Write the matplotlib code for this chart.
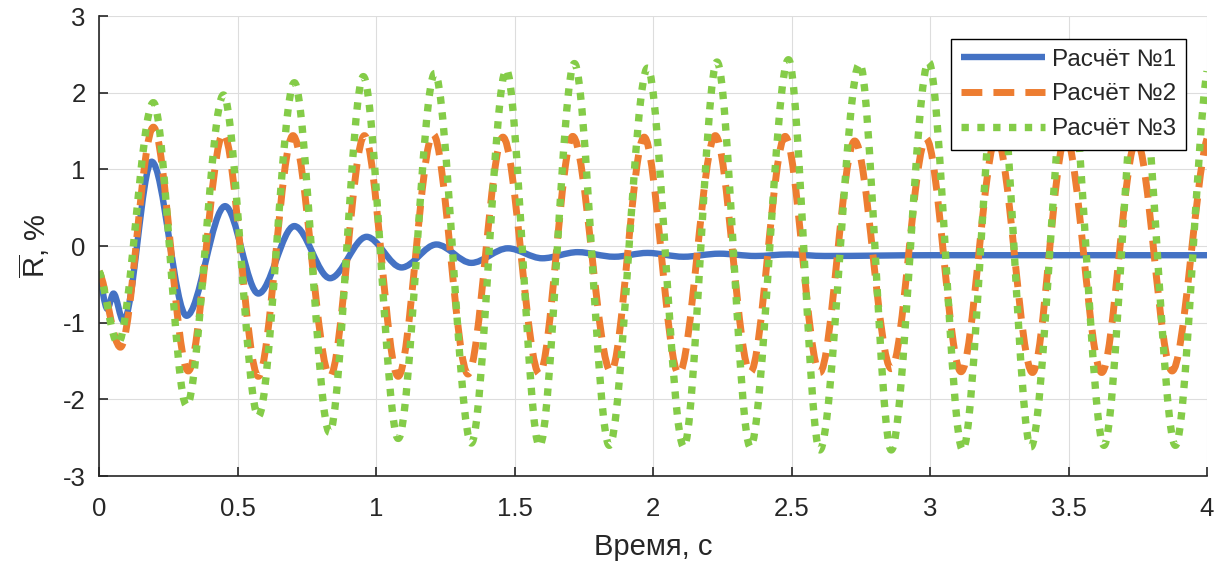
import numpy as np
import matplotlib
matplotlib.use('Agg')
import matplotlib.pyplot as plt
from matplotlib.path import Path
from matplotlib.patches import PathPatch
from matplotlib.lines import Line2D

plt.rcParams['font.family'] = ['Liberation Sans', 'DejaVu Sans']
plt.rcParams['mathtext.fontset'] = 'custom'
plt.rcParams['mathtext.rm'] = 'Liberation Sans'
plt.rcParams['axes.unicode_minus'] = False

# turning points of each run (time, value)
t1 = [0.0, 0.03, 0.052, 0.088, 0.19, 0.316, 0.455, 0.575, 0.705, 0.834, 0.966,
      1.092, 1.218, 1.344, 1.476, 1.60, 1.728, 1.86, 1.98, 2.11, 2.24, 2.37,
      2.49, 2.62, 3.0, 3.5, 4.0]
r1 = [-0.4, -0.82, -0.62, -0.98, 1.10, -0.91, 0.52, -0.62, 0.26, -0.42, 0.12,
      -0.28, 0.02, -0.22, -0.03, -0.16, -0.08, -0.14, -0.09, -0.14, -0.10, -0.13,
      -0.11, -0.13, -0.12, -0.12, -0.12]

t2 = [0.0, 0.077, 0.196, 0.322, 0.449, 0.575, 0.70, 0.834, 0.958, 1.080, 1.206,
      1.332, 1.458, 1.59, 1.71, 1.848, 1.968, 2.093, 2.225, 2.351, 2.477, 2.602,
      2.728, 2.86, 2.986, 3.112, 3.24, 3.37, 3.49, 3.62, 3.745, 3.874, 4.0]
r2 = [-0.33, -1.32, 1.55, -1.63, 1.47, -1.70, 1.44, -1.70, 1.44, -1.70, 1.46,
      -1.67, 1.42, -1.67, 1.43, -1.64, 1.42, -1.67, 1.44, -1.65, 1.43, -1.65,
      1.37, -1.60, 1.40, -1.64, 1.42, -1.65, 1.42, -1.65, 1.38, -1.63, 1.40]

t3 = [0.0, 0.068, 0.196, 0.316, 0.449, 0.575, 0.705, 0.832, 0.954, 1.08, 1.212,
      1.344, 1.47, 1.59, 1.716, 1.842, 1.98, 2.111, 2.231, 2.351, 2.489, 2.602,
      2.746, 2.86, 2.995, 3.118, 3.245, 3.364, 3.50, 3.628, 3.755, 3.886, 4.0]
r3 = [-0.33, -1.27, 1.87, -2.08, 1.97, -2.22, 2.13, -2.43, 2.21, -2.51, 2.25,
      -2.57, 2.30, -2.61, 2.38, -2.60, 2.32, -2.62, 2.40, -2.62, 2.43, -2.66,
      2.38, -2.66, 2.40, -2.66, 2.42, -2.62, 2.42, -2.60, 2.44, -2.60, 2.28]

labels = ['Расчёт №1', 'Расчёт №2', 'Расчёт №3']
colors = ['#4472C4', '#ED7D31', '#84CC48']


def smooth_path(t, y):
    # cubic Bezier segments through the turning points, flat at extrema
    t = np.asarray(t, float)
    y = np.asarray(y, float)
    n = len(t)
    d = np.diff(y) / np.diff(t)
    m = np.zeros(n)
    m[0] = 0.5 * d[0]
    m[-1] = 0.5 * d[-1]
    for i in range(1, n - 1):
        m[i] = 0.0 if d[i - 1] * d[i] <= 0 else 0.5 * (d[i - 1] + d[i])
    verts = [(t[0], y[0])]
    codes = [Path.MOVETO]
    for i in range(n - 1):
        h = (t[i + 1] - t[i]) / 3
        verts += [(t[i] + h, y[i] + m[i] * h),
                  (t[i + 1] - h, y[i + 1] - m[i + 1] * h),
                  (t[i + 1], y[i + 1])]
        codes += [Path.CURVE4] * 3
    return Path(verts, codes)


fig = plt.figure(figsize=(12.26, 5.66), dpi=100)
ax = fig.add_axes([0.0808, 0.159, 0.9037, 0.8127])

styles = [dict(lw=4.6, ls='-', capstyle='round'),
          dict(lw=5.0, ls=(0, (3, 1.6)), capstyle='butt'),
          dict(lw=5.3, ls=(0, (1, 1.15)), capstyle='butt')]

handles = []
for t, r, c, s, lab in zip([t1, t2, t3], [r1, r2, r3], colors, styles, labels):
    p = PathPatch(smooth_path(t, r), fill=False, edgecolor=c, lw=s['lw'],
                  linestyle=s['ls'], capstyle=s['capstyle'], joinstyle='round')
    ax.add_patch(p)
    handles.append(Line2D([], [], color=c, lw=s['lw'], ls=s['ls'],
                          solid_capstyle='butt', dash_capstyle='butt'))

ax.set_xlim(0, 4)
ax.set_ylim(-3, 3)
ax.set_xticks(np.arange(0, 4.01, 0.5))
ax.set_xticklabels(['0', '0.5', '1', '1.5', '2', '2.5', '3', '3.5', '4'])
ax.set_yticks(np.arange(-3, 4))

ax.grid(True, color='#dddddd', lw=0.8)
ax.set_axisbelow(True)
for side in ['top', 'right']:
    ax.spines[side].set_visible(False)
for side in ['left', 'bottom']:
    ax.spines[side].set_color('#262626')
    ax.spines[side].set_linewidth(1.2)
ax.tick_params(direction='in', length=6.5, width=1.2, color='#262626',
               labelsize=18.5, labelcolor='#262626')
ax.tick_params(axis='x', pad=15)
ax.tick_params(axis='y', pad=9.5)

ax.set_xlabel('Время, с', fontsize=21, color='#262626', labelpad=9)
ax.set_ylabel(r'$\overline{\mathrm{R}}$, %', fontsize=21, color='#262626',
              labelpad=8)

leg = ax.legend(handles, labels, loc='upper right',
                bbox_to_anchor=(0.981, 0.95), borderaxespad=0,
                fontsize=17.5, handlelength=3.45, handletextpad=0.3,
                labelspacing=0.52, borderpad=0.4, fancybox=False,
                framealpha=1, edgecolor='black')
leg.get_frame().set_linewidth(1.0)
for txt in leg.get_texts():
    txt.set_color('#262626')

fig.savefig('out.png', dpi=100)
